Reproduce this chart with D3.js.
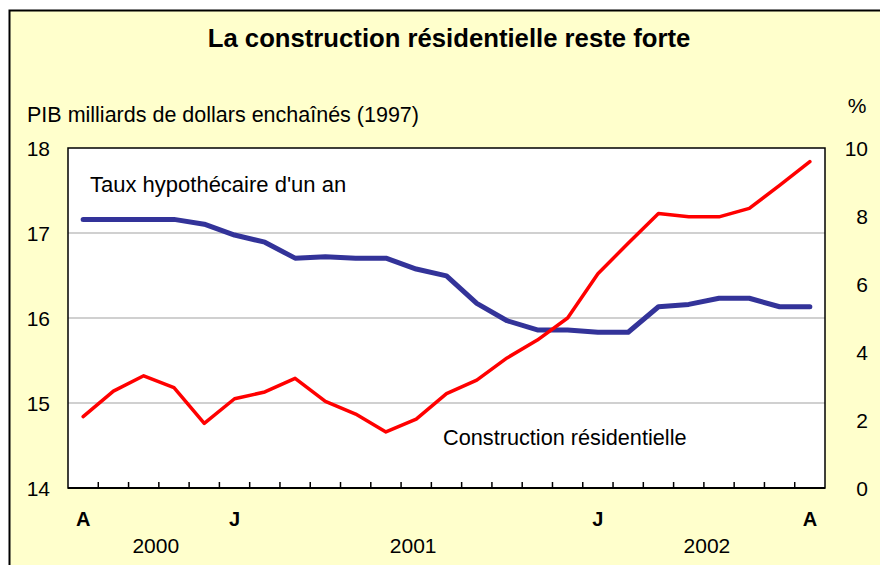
<!DOCTYPE html>
<html>
<head>
<meta charset="utf-8">
<script src="https://cdn.jsdelivr.net/npm/d3@7"></script>
<style>
  body { margin: 0; background: #fff; }
  svg { display: block; font-family: "Liberation Sans", Arial, sans-serif; }
</style>
</head>
<body>
<div id="chart"></div>
<script>
// catégories mensuelles (août 2000 à août 2002)
const months = d3.range(25);
const monthLabels = [{ i: 0, t: "A" }, { i: 5, t: "J" }, { i: 17, t: "J" }, { i: 24, t: "A" }];
const yearLabels = [{ i: 2.4, t: "2000" }, { i: 10.9, t: "2001" }, { i: 20.6, t: "2002" }];

// construction résidentielle, milliards $ enchaînés (axe gauche)
const construction = [14.84, 15.14, 15.32, 15.18, 14.76, 15.05, 15.13, 15.29, 15.02, 14.87,
  14.66, 14.81, 15.11, 15.27, 15.53, 15.74, 16.00, 16.52, 16.88, 17.23,
  17.19, 17.19, 17.29, 17.56, 17.84];
// taux hypothécaire d'un an, % (axe droit)
const taux = [7.90, 7.90, 7.90, 7.90, 7.76, 7.44, 7.23, 6.76, 6.80, 6.76,
  6.76, 6.44, 6.24, 5.43, 4.92, 4.65, 4.65, 4.58, 4.58, 5.33,
  5.40, 5.58, 5.58, 5.33, 5.33];

const leftTicks = [14, 15, 16, 17, 18];
const rightTicks = [0, 2, 4, 6, 8, 10];

const width = 880, height = 565;
const plot = { left: 68, right: 825, top: 148, bottom: 488 };

const svg = d3.select("#chart").append("svg")
  .attr("width", width)
  .attr("height", height);

// fond jaune pâle avec cadre
svg.append("rect")
  .attr("x", 9.5).attr("y", 10.5)
  .attr("width", width).attr("height", height)
  .attr("fill", "#FFFFCC")
  .attr("stroke", "#000").attr("stroke-width", 2);

const x = d3.scaleBand().domain(months).range([plot.left, plot.right]);
const yL = d3.scaleLinear().domain([14, 18]).range([plot.bottom, plot.top]);
const yR = d3.scaleLinear().domain([0, 10]).range([plot.bottom, plot.top]);
// centre d'une catégorie (accepte aussi une position fractionnaire)
const cx = i => x(0) + (i + 0.5) * x.step();

svg.append("rect")
  .attr("x", plot.left).attr("y", plot.top)
  .attr("width", plot.right - plot.left).attr("height", plot.bottom - plot.top)
  .attr("fill", "#fff");

// quadrillage
svg.append("g")
  .selectAll("line")
  .data(leftTicks.filter(d => d > 14 && d < 18))
  .join("line")
  .attr("x1", plot.left).attr("x2", plot.right)
  .attr("y1", d => yL(d)).attr("y2", d => yL(d))
  .attr("stroke", "#C0C0C0").attr("stroke-width", 1.5);

// cadre du graphique
svg.append("rect")
  .attr("x", plot.left).attr("y", plot.top)
  .attr("width", plot.right - plot.left).attr("height", plot.bottom - plot.top)
  .attr("fill", "none").attr("stroke", "#000").attr("stroke-width", 1.5);

// graduations entre catégories
svg.append("g")
  .selectAll("line")
  .data(months.slice(1))
  .join("line")
  .attr("x1", d => x(d)).attr("x2", d => x(d))
  .attr("y1", plot.bottom).attr("y2", plot.bottom - 6)
  .attr("stroke", "#000").attr("stroke-width", 1.5);

svg.append("line")
  .attr("x1", plot.left).attr("x2", plot.right)
  .attr("y1", plot.bottom).attr("y2", plot.bottom)
  .attr("stroke", "#000").attr("stroke-width", 2);

// étiquettes des axes
svg.append("g")
  .selectAll("text")
  .data(leftTicks)
  .join("text")
  .attr("x", 50).attr("y", d => yL(d) + 8)
  .attr("text-anchor", "end")
  .attr("font-size", 21)
  .text(d => d);

svg.append("g")
  .selectAll("text")
  .data(rightTicks)
  .join("text")
  .attr("x", 868).attr("y", d => yR(d) + 8)
  .attr("text-anchor", "end")
  .attr("font-size", 21)
  .text(d => d);

svg.append("g")
  .selectAll("text")
  .data(monthLabels)
  .join("text")
  .attr("x", d => cx(d.i)).attr("y", 526)
  .attr("text-anchor", "middle")
  .attr("font-size", 20).attr("font-weight", "bold")
  .text(d => d.t);

svg.append("g")
  .selectAll("text")
  .data(yearLabels)
  .join("text")
  .attr("x", d => cx(d.i)).attr("y", 553)
  .attr("text-anchor", "middle")
  .attr("font-size", 21)
  .text(d => d.t);

// séries
const lineL = d3.line().x((d, i) => cx(i)).y(d => yL(d));
const lineR = d3.line().x((d, i) => cx(i)).y(d => yR(d));

svg.append("path")
  .datum(taux)
  .attr("d", lineR)
  .attr("fill", "none")
  .attr("stroke", "#333399").attr("stroke-width", 5)
  .attr("stroke-linejoin", "round").attr("stroke-linecap", "round");

svg.append("path")
  .datum(construction)
  .attr("d", lineL)
  .attr("fill", "none")
  .attr("stroke", "#FF0000").attr("stroke-width", 3.5)
  .attr("stroke-linejoin", "round").attr("stroke-linecap", "round");

// titres
svg.append("text")
  .attr("x", 449).attr("y", 47)
  .attr("text-anchor", "middle")
  .attr("font-size", 25.7).attr("font-weight", "bold")
  .text("La construction résidentielle reste forte");

svg.append("text")
  .attr("x", 27).attr("y", 122)
  .attr("font-size", 21.5)
  .text("PIB milliards de dollars enchaînés (1997)");

svg.append("text")
  .attr("x", 857).attr("y", 113)
  .attr("text-anchor", "middle")
  .attr("font-size", 21)
  .text("%");

svg.append("text")
  .attr("x", 90).attr("y", 192)
  .attr("font-size", 22)
  .text("Taux hypothécaire d'un an");

svg.append("text")
  .attr("x", 443).attr("y", 445)
  .attr("font-size", 21.7)
  .text("Construction résidentielle");
</script>
</body>
</html>
